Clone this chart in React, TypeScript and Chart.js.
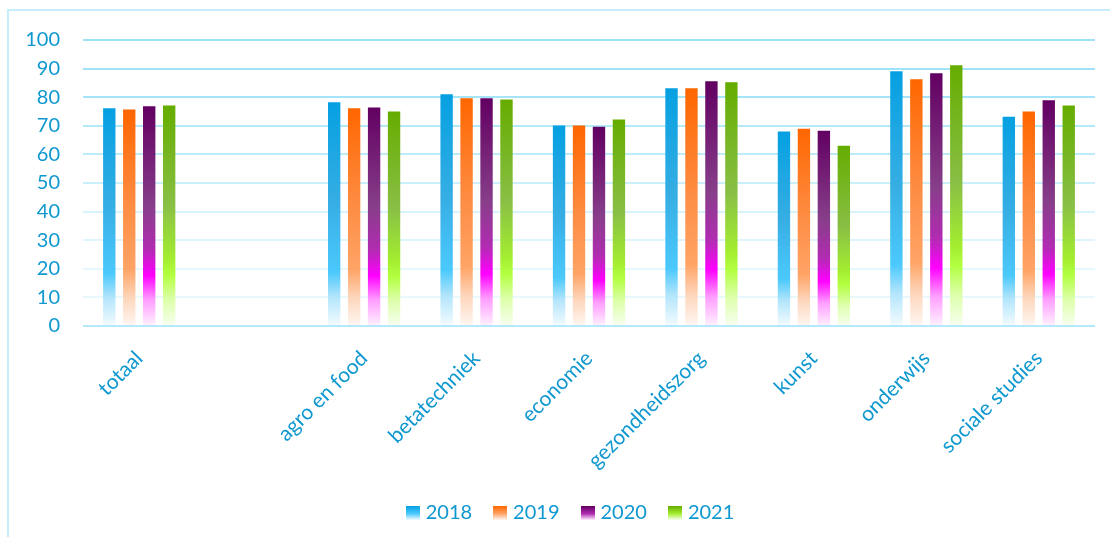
import React, { useEffect, useRef } from "react";
import { Chart, registerables } from "chart.js";

Chart.register(...registerables);

const categories = [
  "totaal",
  "",
  "agro en food",
  "betatechniek",
  "economie",
  "gezondheidszorg",
  "kunst",
  "onderwijs",
  "sociale studies",
];
const years = ["2018", "2019", "2020", "2021"];
const values2018 = [76.1, null, 78.2, 81.0, 70.1, 83.1, 68.0, 89.1, 73.2];
const values2019 = [75.7, null, 76.1, 79.6, 70.1, 83.1, 69.0, 86.3, 75.0];
const values2020 = [76.8, null, 76.4, 79.6, 69.7, 85.6, 68.3, 88.4, 78.9];
const values2021 = [77.1, null, 75.0, 79.2, 72.2, 85.2, 63.0, 91.2, 77.1];
const yMin = 0;
const yMax = 100;
const yStep = 10;

type Stop = [number, string];
const stopsBlue: Stop[] = [
  [0, "#05a0e2"],
  [0.45, "#36aee4"],
  [0.76, "#4cc9fc"],
  [0.87, "#b2e5fb"],
  [1, "#f4fbff"],
];
const stopsOrange: Stop[] = [
  [0, "#ff6600"],
  [0.45, "#fd8d44"],
  [0.74, "#ffa466"],
  [0.87, "#fdd6bc"],
  [1, "#fff7f2"],
];
const stopsPurple: Stop[] = [
  [0, "#620062"],
  [0.45, "#873e89"],
  [0.65, "#b12cb1"],
  [0.77, "#ff00ff"],
  [0.88, "#ff9cff"],
  [1, "#fff2ff"],
];
const stopsGreen: Stop[] = [
  [0, "#65ac00"],
  [0.45, "#89bf45"],
  [0.7, "#a4ee30"],
  [0.77, "#b2ff40"],
  [0.88, "#ddffaa"],
  [1, "#f7fff0"],
];

const textColor = "#0f98d0";
const fontFamily = "Lato, 'Open Sans', sans-serif";
const fontSize = 20;
const legendShift = 20;

const gridColors: Record<number, string> = {
  0: "#b5e8f9",
  10: "#e8f8fd",
  20: "#e6f7fd",
  30: "#def5fd",
  40: "#d7f3fc",
  50: "#cbeffb",
  60: "#bcebfa",
  70: "#b4e9fa",
  80: "#a5e4f9",
  90: "#a0e3f9",
  100: "#9de2f8",
};

function barFill(stops: Stop[]) {
  return (ctx: any) => {
    const chart = ctx.chart;
    const y = chart.scales && chart.scales.y;
    const v = ctx.raw;
    if (!y || v == null || ctx.type !== "data") return stops[0][1];
    const top = y.getPixelForValue(v);
    const base = y.getPixelForValue(0);
    if (!isFinite(top) || !isFinite(base) || top === base) return stops[0][1];
    const g = chart.ctx.createLinearGradient(0, top, 0, base);
    stops.forEach(([o, c]) => g.addColorStop(o, c));
    return g;
  };
}

function legendSwatch(stops: Stop[]) {
  const c = document.createElement("canvas");
  c.width = 14;
  c.height = 14;
  const cx = c.getContext("2d")!;
  const g = cx.createLinearGradient(0, 0, 0, 14);
  g.addColorStop(0, stops[0][1]);
  g.addColorStop(0.55, stops[Math.min(2, stops.length - 1)][1]);
  g.addColorStop(1, stops[stops.length - 1][1]);
  cx.fillStyle = g;
  cx.fillRect(0, 0, 14, 14);
  return c;
}

export default function App() {
  const ref = useRef<HTMLCanvasElement | null>(null);

  useEffect(() => {
    if (!ref.current) return;
    const allStops = [stopsBlue, stopsOrange, stopsPurple, stopsGreen];
    const series = [values2018, values2019, values2020, values2021];
    const swatches = allStops.map(legendSwatch);

    const shiftLegend = {
      id: "shiftLegend",
      afterLayout: (ch: any) => {
        const l = ch.legend;
        if (l) {
          l.left += legendShift;
          l.right += legendShift;
        }
      },
    };

    const chart = new Chart(ref.current, {
      type: "bar",
      data: {
        labels: categories,
        datasets: series.map((vals, i) => ({
          label: years[i],
          data: vals,
          backgroundColor: barFill(allStops[i]),
          borderWidth: 0,
          categoryPercentage: 0.71,
          barPercentage: 0.62,
        })),
      },
      options: {
        responsive: false,
        animation: false,
        devicePixelRatio: 1,
        layout: { padding: { left: 0, right: 14, top: 29, bottom: 4 } },
        scales: {
          x: {
            grid: { display: false, drawTicks: false },
            border: { display: false },
            ticks: {
              color: textColor,
              font: { family: fontFamily, size: 21 },
              minRotation: 45,
              maxRotation: 45,
              autoSkip: false,
              padding: 20,
            },
            afterFit: (s: any) => {
              s.height = 152;
            },
          },
          y: {
            min: yMin,
            max: yMax,
            grid: {
              drawTicks: false,
              lineWidth: 2,
              color: (c: any) => gridColors[c.tick?.value] || "#d7f3fc",
            },
            border: { display: false },
            ticks: {
              stepSize: yStep,
              color: textColor,
              font: { family: fontFamily, size: fontSize },
              padding: 23,
            },
            afterFit: (s: any) => {
              s.width = 74;
              s.paddingTop = 0;
              s.paddingBottom = 0;
            },
          },
        },
        plugins: {
          title: { display: false },
          tooltip: { enabled: false },
          legend: {
            position: "bottom",
            labels: {
              color: textColor,
              font: { family: fontFamily, size: fontSize },
              usePointStyle: true,
              pointStyleWidth: 6,
              padding: 25,
              generateLabels: (ch: any) => {
                const items = Chart.defaults.plugins.legend.labels.generateLabels(ch);
                return items.map((it: any, i: number) => ({
                  ...it,
                  pointStyle: swatches[i],
                  lineWidth: 0,
                  strokeStyle: "transparent",
                }));
              },
            },
          },
        },
      },
      plugins: [shiftLegend],
    } as any);
    return () => chart.destroy();
  }, []);

  return (
    <div
      style={{
        position: "absolute",
        left: 7,
        top: 9,
        width: 1120,
        height: 560,
        border: "2px solid #c6edfb",
        boxSizing: "border-box",
      }}
    >
      <canvas ref={ref} width={1100} height={526} style={{ display: "block" }} />
    </div>
  );
}
